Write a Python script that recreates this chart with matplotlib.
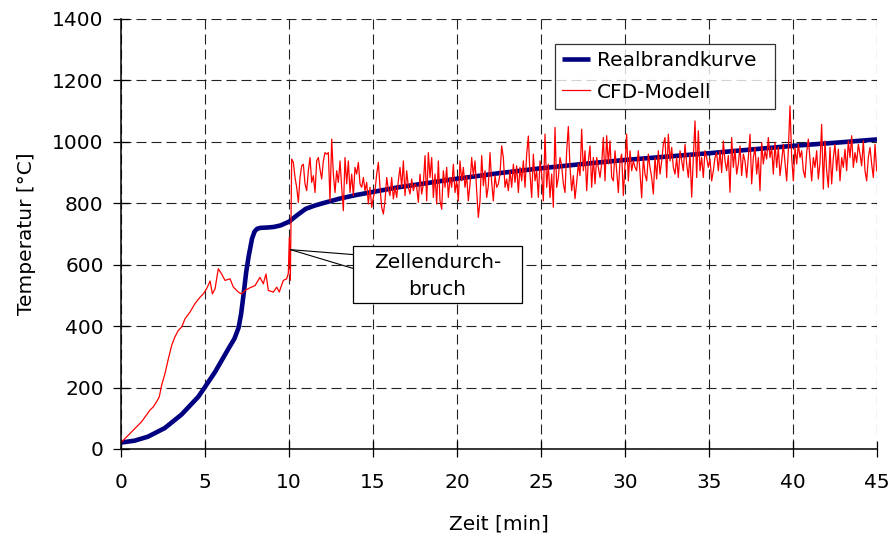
import numpy as np
import matplotlib
matplotlib.use("Agg")
import matplotlib.pyplot as plt
from matplotlib.patches import Rectangle

plt.rcParams['font.family'] = ['DejaVu Sans']
FS = 14.5

# Realbrandkurve (measured fire curve)
real_t = [0, 0.8, 1.6, 2.6, 3.6, 4.6, 5.0, 5.6, 6.0, 6.4, 6.75, 7.0, 7.15, 7.3,
          7.45, 7.6, 7.8, 7.95, 8.1, 8.3, 8.7, 9.1, 9.5, 10.0, 10.5, 11.0, 11.5,
          12.0, 13.0, 14.0, 15.0, 16.5, 18.0, 20.0, 22.5, 25.0, 27.5, 30.0, 32.5,
          35.0, 37.5, 40.0, 42.5, 45.0]
real_temp = [21, 27, 40, 68, 112, 170, 202, 251, 289, 327, 359, 395, 440, 505,
             575, 628, 685, 708, 717, 720, 721, 723, 728, 740, 762, 782, 792,
             800, 815, 827, 837, 852, 864, 880, 898, 914, 928, 941, 952,
             963, 975, 987, 997, 1008]

# CFD model, phase before the cell breakthrough
cfd_early_t = [0, 0.63, 1.23, 1.73, 1.92, 2.12, 2.28, 2.42, 2.62, 2.82, 3.02,
               3.21, 3.41, 3.61, 3.81, 4.11, 4.40, 4.70, 4.90, 5.10, 5.30, 5.44,
               5.60, 5.79, 5.99, 6.19, 6.49, 6.69, 6.98, 7.18, 7.38, 7.68, 7.98,
               8.27, 8.47, 8.63, 8.77, 9.07, 9.27, 9.42, 9.66, 9.86, 9.96, 10.02,
               10.08]
cfd_early_temp = [21, 56, 89, 127, 137, 154, 170, 208, 246, 294, 338,
                  365, 386, 397, 424, 446, 473, 494, 505, 522, 547, 505,
                  522, 587, 570, 549, 554, 527, 511, 505, 516, 525, 532,
                  559, 538, 570, 516, 511, 527, 511, 549, 554, 572, 689,
                  549]

# CFD model after the breakthrough, sampled every ~6 s
cfd_late_start, cfd_late_end = 10.16, 44.98
cfd_late_temp = [
    944, 933, 884, 852, 803, 884, 922, 927, 863, 841,
    906, 949, 868, 890, 835, 938, 949, 911, 879, 938,
    965, 960, 965, 808, 1009, 895, 835, 906, 868, 938,
    852, 776, 949, 863, 938, 835, 895, 825, 917, 895,
    933, 863, 852, 884, 841, 868, 798, 852, 787, 819,
    841, 895, 933, 852, 787, 765, 808, 884, 846, 825,
    884, 814, 852, 819, 873, 917, 852, 938, 825, 906,
    852, 830, 879, 841, 863, 852, 803, 895, 830, 863,
    955, 808, 965, 884,
    949, 819, 895, 798, 938, 808, 781, 906, 852, 917,
    819, 884, 852, 927, 835, 873, 808, 938, 873, 917,
    852, 890, 808, 863, 949, 890, 938, 841, 754, 808,
    955, 857, 906, 819, 857, 965, 868, 808, 890, 852,
    863, 895, 987, 949, 852, 879, 841, 906, 852, 927,
    868, 922, 835, 917, 873, 938, 852, 960, 1019, 895,
    819, 960, 873, 906, 819, 938, 895, 808, 1025, 852,
    927, 819, 895, 787, 1047, 852, 884, 949, 922, 863,
    835, 971, 1050, 917,
    841, 890, 815, 868, 928, 890, 1041, 906, 971, 841,
    938, 987, 852, 949, 863, 949, 917, 884, 928, 1014,
    873, 1020, 928, 1003, 884, 873, 971, 906, 835, 938,
    960, 825, 928, 1025, 873, 971, 906, 938, 917, 906,
    971, 900, 818, 949, 895, 873, 960, 917, 884, 830,
    949, 879, 971, 895, 938, 992, 1014, 884, 1025, 938,
    982, 917, 895, 949, 884, 971, 938, 906, 992, 928,
    884, 960, 820, 949, 1068, 884, 1036, 906, 949, 884,
    971, 949, 917, 944, 873, 906,
    949, 965, 906, 971, 900, 1003, 938, 906, 955, 836,
    1014, 917, 976, 895, 928, 987, 890, 960, 938, 884,
    949, 1025, 863, 949, 982, 895, 949, 841, 998, 928,
    971, 944, 1014, 949, 982, 895, 998, 917, 982, 890,
    938, 992, 933, 873, 971, 1117, 949, 873, 982, 928,
    992, 949, 971, 906, 884, 965, 1009, 944, 873, 949,
    917, 971, 879, 933, 1057, 846, 1003, 906, 852, 982,
    863, 949, 992, 906, 976, 873, 949, 917, 976, 906,
    1003, 949, 1020, 917, 965, 933, 992, 960, 922, 1003,
    906, 873, 949, 982, 928, 884, 992, 906,
]

x_ticks = [0, 5, 10, 15, 20, 25, 30, 35, 40, 45]
y_ticks = [0, 200, 400, 600, 800, 1000, 1200, 1400]

cfd_t = np.concatenate([cfd_early_t,
                        np.linspace(cfd_late_start, cfd_late_end, len(cfd_late_temp))])
cfd_temp = np.concatenate([cfd_early_temp, cfd_late_temp])

fig = plt.figure(figsize=(8.94, 5.38), dpi=100)
ax = fig.add_axes([121 / 894, 1 - 449 / 538, 756 / 894, 430 / 538])

ax.plot(real_t, real_temp, color='#000080', lw=3.3, label='Realbrandkurve',
        solid_capstyle='butt', zorder=3)
ax.plot(cfd_t, cfd_temp, color='#FF0000', lw=0.9, label='CFD-Modell', zorder=4)

ax.set_xlim(0, 45)
ax.set_ylim(0, 1400)
ax.set_xticks(x_ticks)
ax.set_yticks(y_ticks)
ax.grid(True, color='#222222', lw=0.8, linestyle=(0, (9, 4.5)), zorder=0)
ax.set_axisbelow(True)

for side in ('top', 'right'):
    ax.spines[side].set_visible(False)
for side in ('left', 'bottom'):
    ax.spines[side].set_linewidth(1.1)
    ax.spines[side].set_zorder(5)

ax.tick_params(axis='both', direction='inout', length=11, width=0.9,
               labelsize=FS, colors='black')
ax.tick_params(axis='y', pad=7)
ax.tick_params(axis='x', pad=12)

ax.set_xlabel('Zeit [min]', fontsize=FS)
ax.set_ylabel('Temperatur [°C]', fontsize=FS)
ax.xaxis.set_label_coords(0.5, (449 - 514) / 430)
ax.yaxis.set_label_coords((36 - 121) / 756, 0.5)

# callout for the cell breakthrough
anchor = (10.09, 649)
box_x0, box_x1, box_y0, box_y1 = 13.81, 23.87, 474, 662
ax.plot([anchor[0], box_x0], [anchor[1], 633], color='black', lw=0.8, zorder=6)
ax.plot([anchor[0], box_x0], [anchor[1], 588], color='black', lw=0.8, zorder=6)
ax.add_patch(Rectangle((box_x0, box_y0), box_x1 - box_x0, box_y1 - box_y0,
                       facecolor='white', edgecolor='black', lw=0.9, zorder=6))
ax.text((box_x0 + box_x1) / 2, (box_y0 + box_y1) / 2 - 4, 'Zellendurch-\nbruch',
        ha='center', va='center', multialignment='center', fontsize=FS,
        linespacing=1.5, zorder=7)

leg = ax.legend(loc='upper left', mode='expand',
                bbox_to_anchor=(555 / 894, 1 - 109 / 538, 220 / 894, 65 / 538),
                bbox_transform=fig.transFigure, fontsize=FS, frameon=True,
                fancybox=False, shadow=False, borderaxespad=0, borderpad=0.35,
                handlelength=1.4, handletextpad=0.35, labelspacing=0.62)
leg.get_frame().set_edgecolor('black')
leg.get_frame().set_linewidth(0.9)
leg.set_zorder(8)

fig.savefig('out.png', dpi=100, facecolor='white')
